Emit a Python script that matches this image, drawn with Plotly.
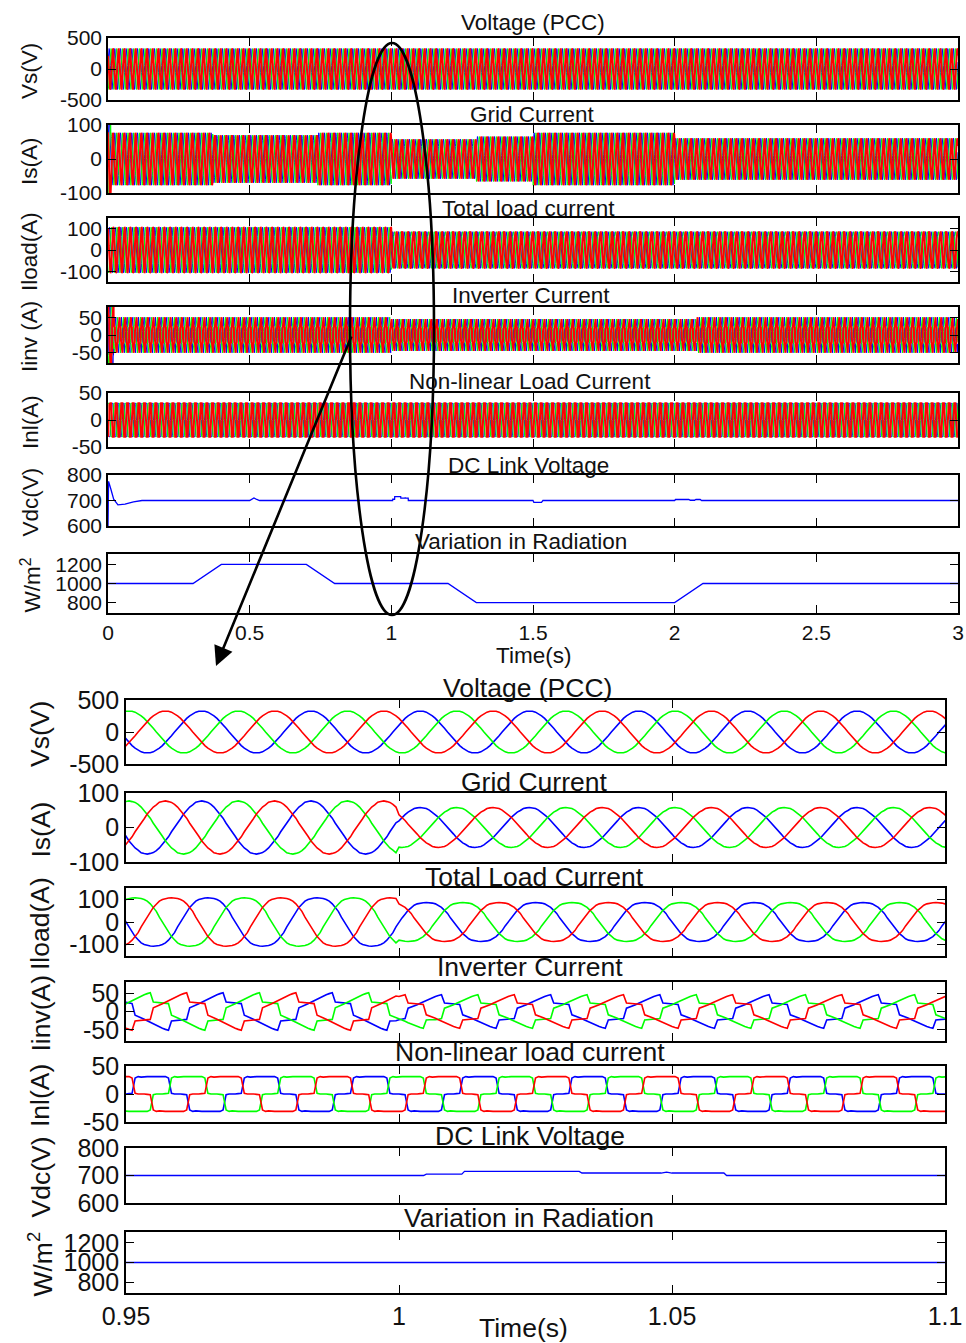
import numpy as np
import plotly.graph_objects as go

# ------------------------------------------------------------------ data
FREQ_HZ = 50
SAMPLES_PER_CYCLE = 36          # 10-degree steps
T_END = 3.0

# half-cycle shapes of phase "a" (red), 10 degree steps
vs_half = [1.0, 0.985, 0.94, 0.866, 0.766, 0.643, 0.5, 0.342, 0.174, 0.0,
           -0.174, -0.342, -0.5, -0.643, -0.766, -0.866, -0.94, -0.985]
is_half = [1.0, 0.975, 0.945, 0.87, 0.77, 0.63, 0.51, 0.35, 0.16, 0.01,
           -0.18, -0.33, -0.51, -0.64, -0.77, -0.85, -0.95, -0.98]
iload_half = [1.0, 0.99, 0.97, 0.93, 0.86, 0.75, 0.6, 0.44, 0.2, 0.0,
              -0.21, -0.4, -0.6, -0.73, -0.86, -0.93, -0.97, -0.99]
iinv_half = [26.4, 31.0, 35.6, 40.0, 44.2, 47.8, 51.0, 53.5, 27.0, 26.3,
             26.6, 26.0, 24.6, 22.6, -10.5, -13.7, -17.6, -21.9]
inl_half = [1.0, 1.0, 1.0, 0.97, 1.0, 0.92, 0.04, 0.0, 0.02, 0.0,
            -0.02, -0.04, -0.92, -1.0, -0.97, -1.0, -1.0, -1.0]

# position (in samples) of phase "a" reference point
vs_offset = 31
is_offset = 31
iload_offset = 33
iinv_offset = 31
inl_offset = 15

# amplitude envelopes: segment start time and amplitude
vs_env_t = [0.0]
vs_env_a = [330]
is_env_t = [0.0, 0.01, 0.37, 0.74, 1.0, 1.3, 1.5, 2.0]
is_env_a = [125, 77, 70, 77, 58, 66, 77, 61]
iload_env_t = [0.0, 1.0]
iload_env_a = [107, 86]
iinv_env_t = [0.0, 0.02, 1.0, 2.08]
iinv_env_a = [2.2, 0.95, 0.85, 0.95]
inl_env_t = [0.0]
inl_env_a = [31]

# DC link voltage
vdc_t = [0, 0.002, 0.01, 0.02, 0.035, 0.06, 0.09, 0.12, 0.5, 0.51, 0.515, 0.525, 0.535,
         1.0, 1.0045, 1.005, 1.0115, 1.012, 1.033, 1.0335, 1.048, 1.049, 1.05, 1.0595, 1.06,
         1.5, 1.503, 1.53, 1.535, 2.0, 2.003, 2.05, 2.055, 2.07, 2.075, 2.09, 2.095, 3.0]
vdc_v = [600, 775, 745, 705, 683, 686, 695, 700, 700, 706, 710, 704, 700,
         700, 700, 705, 705, 715, 715, 709, 709, 712, 709, 709, 700,
         700, 693, 693, 700, 700, 704, 704, 701, 701, 704, 704, 700, 700]

# solar radiation (W/m^2)
rad_t = [0, 0.3, 0.4, 0.7, 0.8, 1.2, 1.3, 2.0, 2.1, 3.0]
rad_v = [1000, 1000, 1200, 1200, 1000, 1000, 800, 800, 1000, 1000]

# labels
top_titles = ["Voltage (PCC)", "Grid Current", "Total load current", "Inverter Current",
              "Non-linear Load Current", "DC Link Voltage", "Variation in Radiation"]
bot_titles = ["Voltage (PCC)", "Grid Current", "Total Load Current", "Inverter Current",
              "Non-linear load current", "DC Link Voltage", "Variation in Radiation"]
top_ylabels = ["Vs(V)", "Is(A)", "Iload(A)", "Iinv (A)", "Inl(A)", "Vdc(V)", "W/m<sup>2</sup>"]
bot_ylabels = ["Vs(V)", "Is(A)", "Iload(A)", "Iinv(A)", "Inl(A)", "Vdc(V)", "W/m<sup>2</sup>"]
y_ranges = [(-500, 500), (-100, 100), (-150, 150), (-80, 80), (-50, 50), (600, 800), (690, 1310)]
y_ticks = [[-500, 0, 500], [-100, 0, 100], [-100, 0, 100], [-50, 0, 50], [-50, 0, 50],
           [600, 700, 800], [800, 1000, 1200]]
top_xticks = [0, 0.5, 1, 1.5, 2, 2.5, 3]
top_xtext = ["0", "0.5", "1", "1.5", "2", "2.5", "3"]
bot_xticks = [0.95, 1.0, 1.05, 1.1]
bot_xtext = ["0.95", "1", "1.05", "1.1"]

# ------------------------------------------------------------------ build signals
dt = 1.0 / FREQ_HZ / SAMPLES_PER_CYCLE
n = np.arange(int(round(T_END / dt)) + 1)
t = n * dt
S = SAMPLES_PER_CYCLE


def three_phase(half, offset, env_t, env_a):
    cycle = np.array(list(half) + [-v for v in half])
    amp = np.array(env_a, dtype=float)[np.searchsorted(env_t, t, side="right") - 1]
    red = cycle[(n - offset) % S] * amp
    blue = cycle[(n - offset - S // 3) % S] * amp
    green = cycle[(n - offset - 2 * S // 3) % S] * amp
    return blue, green, red


waves = [
    three_phase(vs_half, vs_offset, vs_env_t, vs_env_a),
    three_phase(is_half, is_offset, is_env_t, is_env_a),
    three_phase(iload_half, iload_offset, iload_env_t, iload_env_a),
    three_phase(iinv_half, iinv_offset, iinv_env_t, iinv_env_a),
    three_phase(inl_half, inl_offset, inl_env_t, inl_env_a),
]

# ------------------------------------------------------------------ layout helpers
W, H = 966, 1343
FONT = "Liberation Sans, Arial, sans-serif"


def py(p):
    return 1 - p / H


def px(p):
    return p / W


top_boxes = [(38, 100), (125, 193), (218, 282), (307, 363), (393, 447), (475, 526), (554, 613)]
bot_boxes = [(700, 764), (793, 862), (888, 956), (982, 1041), (1066, 1122), (1148, 1203), (1232, 1293)]
panels = [
    dict(boxes=top_boxes, xdom=(108, 958), xr=(0, 3), xt=top_xticks, xtt=top_xtext,
         fs=21, tfs=22.5, titles=top_titles, ylabels=top_ylabels, ylx=30,
         tmask=(t >= 0) & (t <= 3), lws=(1.0, 1.0, 2.0), ticklen=8),
    dict(boxes=bot_boxes, xdom=(126, 945), xr=(0.95, 1.1), xt=bot_xticks, xtt=bot_xtext,
         fs=25, tfs=26.5, titles=bot_titles, ylabels=bot_ylabels, ylx=40,
         tmask=(t >= 0.945) & (t <= 1.105), lws=(1.6, 1.6, 1.6), ticklen=8),
]
top_title_pos = [(533, 22), (532, 115), (528, 208), (531, 296), (530, 381), (528, 466), (521, 541)]
bot_title_pos = [(527, 688), (534, 782), (534, 877), (530, 967), (530, 1052), (530, 1136), (529, 1218)]
title_pos = [top_title_pos, bot_title_pos]

fig = go.Figure()
annotations = []
layout_axes = {}
colors = ["#0000ff", "#00ff00", "#ff0000"]

for p, pan in enumerate(panels):
    m = pan["tmask"]
    for i in range(7):
        idx = p * 7 + i + 1
        xs = "x" if idx == 1 else f"x{idx}"
        ys = "y" if idx == 1 else f"y{idx}"
        xk = "xaxis" if idx == 1 else f"xaxis{idx}"
        yk = "yaxis" if idx == 1 else f"yaxis{idx}"
        if i < 5:
            for c, lw, series in zip(colors, pan["lws"], waves[i]):
                fig.add_trace(go.Scatter(x=t[m], y=series[m], mode="lines",
                                         line=dict(color=c, width=lw),
                                         xaxis=xs, yaxis=ys, hoverinfo="skip"))
        elif i == 5:
            fig.add_trace(go.Scatter(x=vdc_t, y=vdc_v, mode="lines",
                                     line=dict(color="#0000ff", width=1.3),
                                     xaxis=xs, yaxis=ys, hoverinfo="skip"))
        else:
            fig.add_trace(go.Scatter(x=rad_t, y=rad_v, mode="lines",
                                     line=dict(color="#0000ff", width=1.3),
                                     xaxis=xs, yaxis=ys, hoverinfo="skip"))
        top, bot = pan["boxes"][i]
        common = dict(ticks="inside", ticklen=pan["ticklen"], tickwidth=1.2, tickcolor="black",
                      mirror="ticks", showline=True, linecolor="black", linewidth=1.6,
                      showgrid=False, zeroline=False, automargin=False,
                      tickfont=dict(family=FONT, size=pan["fs"], color="#111111"))
        layout_axes[xk] = dict(domain=[px(pan["xdom"][0]), px(pan["xdom"][1])],
                               range=list(pan["xr"]), anchor=ys,
                               tickmode="array", tickvals=pan["xt"], ticktext=pan["xtt"],
                               showticklabels=(i == 6), **common)
        layout_axes[yk] = dict(domain=[py(bot), py(top)], range=list(y_ranges[i]), anchor=xs,
                               tickmode="array", tickvals=y_ticks[i],
                               ticktext=[str(v) for v in y_ticks[i]], **common)
        tx, ty = title_pos[p][i]
        annotations.append(dict(text=pan["titles"][i], x=px(tx), y=py(ty), xref="paper", yref="paper",
                                xanchor="center", yanchor="middle", showarrow=False,
                                font=dict(family=FONT, size=pan["tfs"], color="#111111")))
        annotations.append(dict(text=pan["ylabels"][i], x=px(pan["ylx"]), y=py((top + bot) / 2 + 2),
                                xref="paper", yref="paper", xanchor="center", yanchor="middle",
                                textangle=-90, showarrow=False,
                                font=dict(family=FONT, size=pan["tfs"], color="#111111")))

annotations.append(dict(text="Time(s)", x=px(533), y=py(655), xref="paper", yref="paper",
                        xanchor="center", yanchor="middle", showarrow=False,
                        font=dict(family=FONT, size=22.5, color="#111111")))
annotations.append(dict(text="Time(s)", x=px(523), y=py(1328), xref="paper", yref="paper",
                        xanchor="center", yanchor="middle", showarrow=False,
                        font=dict(family=FONT, size=26.5, color="#111111")))
# zoom arrow
annotations.append(dict(text="", x=px(216), y=py(666), xref="paper", yref="paper",
                        ax=136, ay=-331, axref="pixel", ayref="pixel", showarrow=True,
                        arrowhead=2, arrowsize=1.5, arrowwidth=2.6, arrowcolor="black"))

fig.update_layout(
    width=W, height=H, autosize=False,
    margin=dict(l=0, r=0, t=0, b=0, autoexpand=False),
    paper_bgcolor="white", plot_bgcolor="white",
    showlegend=False,
    annotations=annotations,
    shapes=[dict(type="circle", xref="paper", yref="paper",
                 x0=px(350), x1=px(434), y0=py(615), y1=py(43),
                 line=dict(color="black", width=2.6))],
    **layout_axes,
)

fig.write_html("out.html")
